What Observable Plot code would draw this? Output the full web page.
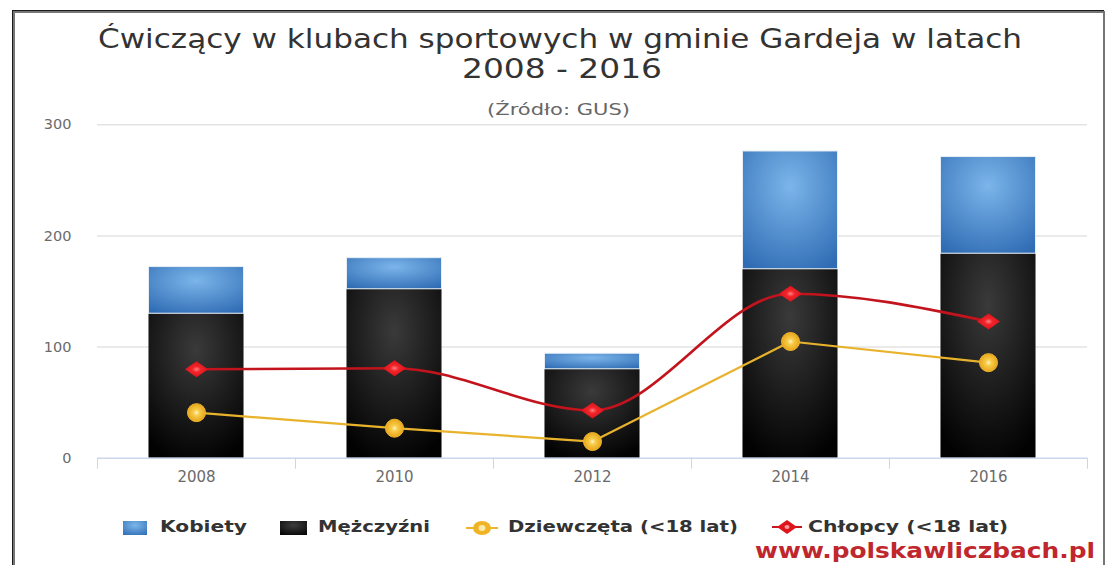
<!DOCTYPE html>
<html><head><meta charset="utf-8">
<script src="https://cdn.jsdelivr.net/npm/d3@7"></script>
<script src="https://cdn.jsdelivr.net/npm/@observablehq/plot@0.6"></script>
<style>
body{margin:0;background:#fff;}
#wrap{position:relative;width:1110px;height:565px;overflow:hidden;background:#fff;font-family:"DejaVu Sans",sans-serif;}
#chart{position:absolute;left:0;top:0;}
#frame{position:absolute;left:13px;top:11px;width:1088px;height:600px;border:2px solid #767676;box-shadow:-1px -1px 0 #1a1a1a;}
.t{position:absolute;white-space:nowrap;transform-origin:0 0;line-height:1;font-family:"DejaVu Sans",sans-serif;}
#legend{position:absolute;left:0;top:500px;}
</style></head><body>
<div id="wrap">
  <div id="chart"></div>
  <div id="frame"></div>
  <svg id="legend" width="1110" height="50">
    <defs>
      <radialGradient id="lgBlue" cx="0.5" cy="0.3" r="0.8"><stop offset="0" stop-color="#7db6ea"/><stop offset="1" stop-color="#3270b8"/></radialGradient>
      <radialGradient id="lgBlack" cx="0.5" cy="0.3" r="0.8"><stop offset="0" stop-color="#3d3d3d"/><stop offset="1" stop-color="#050505"/></radialGradient>
    </defs>
    <rect x="123" y="21" width="24" height="14" fill="url(#lgBlue)"/>
    <rect x="280" y="21" width="27" height="14" fill="url(#lgBlack)"/>
    <line x1="466" x2="498" y1="28" y2="28" stroke="#efb52c" stroke-width="2"/>
    <ellipse cx="482" cy="28" rx="9" ry="7" fill="#f0b323"/>
    <ellipse cx="482" cy="28" rx="3.5" ry="3" fill="#fde9a8"/>
    <line x1="772" x2="802" y1="27" y2="27" stroke="#c8161d" stroke-width="2"/>
    <path d="M777,27 L787,20 L797,27 L787,34 Z" fill="#e0141c"/>
    <ellipse cx="787" cy="27" rx="2.5" ry="2" fill="#ff9a9a"/>
  </svg>
</div>
<script>
// ---- data ----
const years = [2008, 2010, 2012, 2014, 2016];
const kobiety = [42, 28, 14, 106, 87];
const mezczyzni = [130, 152, 80, 170, 184];
const dziewczeta = [41, 27, 15, 105, 86];
const chlopcy = [80, 81, 43, 148, 123];
const yTicks = [0, 100, 200, 300];
const xBoundaries = [2007, 2009, 2011, 2013, 2015, 2017];
const seriesNames = ["Kobiety", "Mężczyźni", "Dziewczęta (<18 lat)", "Chłopcy (<18 lat)"];
const titleLines = ["Ćwiczący w klubach sportowych w gminie Gardeja w latach", "2008 - 2016"];
const subtitle = "(Źródło: GUS)";
const credit = "www.polskawliczbach.pl";

const rows = years.map((year, i) => ({year, k: kobiety[i], m: mezczyzni[i], d: dziewczeta[i], c: chlopcy[i]}));

const diamond = {
  draw(ctx, size) {
    const r = Math.sqrt(size / Math.PI);
    ctx.moveTo(0, -r * 0.8);
    ctx.lineTo(r * 1.15, 0);
    ctx.lineTo(0, r * 0.8);
    ctx.lineTo(-r * 1.15, 0);
    ctx.closePath();
  }
};

const svg = Plot.plot({
  width: 1110,
  height: 500,
  marginTop: 124.3,
  marginBottom: 42.3,
  marginLeft: 97,
  marginRight: 23,
  style: {fontFamily: "DejaVu Sans, sans-serif", fontSize: "14px", background: "transparent"},
  x: {domain: [2007, 2017]},
  y: {domain: [0, 300]},
  marks: [
    Plot.gridY(yTicks.filter(v => v > 0), {stroke: "#e3e3e3", strokeOpacity: 1, strokeWidth: 1.5}),
    Plot.axisY(yTicks, {tickSize: 0, tickPadding: 26, color: "#6a6a6a", fontSize: 14.5, label: null}),
    Plot.rect(rows, {x1: d => d.year - 0.48, x2: d => d.year + 0.48, y1: d => 0, y2: "m", fill: "url(#gBlack)"}),
    Plot.rect(rows, {x1: d => d.year - 0.48, x2: d => d.year + 0.48, y1: "m", y2: d => d.m + d.k, fill: "url(#gBlue)", stroke: "#e8eef5", strokeWidth: 1}),
    Plot.ruleY([0], {stroke: "#ccd6eb", strokeWidth: 1.5}),
    Plot.axisX(xBoundaries, {tickSize: 11, tickFormat: () => "", stroke: "#ccd6eb", label: null}),
    Plot.axisX(years, {tickSize: 0, tickPadding: 13, tickFormat: d => String(d), color: "#6a6a6a", fontSize: 15, label: null}),
    Plot.line(rows, {x: "year", y: "d", stroke: "#e9b22c", strokeWidth: 2.2}),
    Plot.line(rows, {x: "year", y: "c", stroke: "#c3141d", strokeWidth: 2.6, curve: "monotone-x"}),
    Plot.dot(rows, {x: "year", y: "d", r: 9, fill: "url(#gYellow)", stroke: "#f2b62c", strokeWidth: 1}),
    Plot.dot(rows, {x: "year", y: "c", r: 10, symbol: diamond, fill: "url(#gRed)"})
  ]
});

const defs = d3.select(svg).insert("defs", ":first-child");
function radial(id, stops, cy = 0.3, r = 0.75) {
  const g = defs.append("radialGradient").attr("id", id).attr("cx", 0.5).attr("cy", cy).attr("r", r);
  stops.forEach(([o, c]) => g.append("stop").attr("offset", o).attr("stop-color", c));
}
radial("gBlue", [[0, "#7cb5ea"], [1, "#2f6cb4"]], 0.3, 0.8);
radial("gBlack", [[0, "#3a3a3a"], [1, "#020202"]], 0.25, 0.8);
radial("gYellow", [[0, "#fff4c0"], [0.3, "#f8cc4a"], [1, "#e4a012"]], 0.5, 0.55);
radial("gRed", [[0, "#ff8080"], [0.3, "#f0262c"], [1, "#d80c14"]], 0.5, 0.6);

document.getElementById("chart").appendChild(svg);

// ---- texts ----
const wrap = document.getElementById("wrap");
function addText(str, x, base, w, size, weight, color) {
  const el = document.createElement("div");
  el.className = "t";
  el.textContent = str;
  el.style.fontSize = size + "px";
  el.style.fontWeight = weight;
  el.style.color = color;
  wrap.appendChild(el);
  const nat = el.getBoundingClientRect().width;
  el.style.left = x + "px";
  el.style.top = (base - 0.846 * size) + "px";
  el.style.transform = `scaleX(${w / nat})`;
}
addText(titleLines[0], 98, 48, 924, 27, 400, "#333333");
addText(titleLines[1], 462, 78, 200, 27, 400, "#333333");
addText(subtitle, 487, 116, 143, 15, 400, "#666666");
addText(seriesNames[0], 160, 533, 87, 16, 700, "#333333");
addText(seriesNames[1], 318, 533, 112, 16, 700, "#333333");
addText(seriesNames[2], 508, 533, 230, 16, 700, "#333333");
addText(seriesNames[3], 808, 533, 200, 16, 700, "#333333");
addText(credit, 755, 559, 340, 21, 700, "#c0272d");
</script>
</body></html>
